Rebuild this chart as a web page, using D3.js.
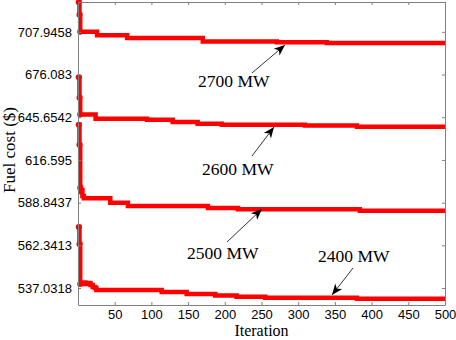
<!DOCTYPE html>
<html lang="en">
<head>
    <meta charset="UTF-8">
    <title>Fuel cost vs iteration</title>
    <script src="https://d3js.org/d3.v7.min.js"></script>
    <style>
        body { margin: 0; background: #fff; }
        .tick text { font-family: "Liberation Sans", Arial, sans-serif; font-size: 13px; fill: #000; }
        .axis path, .axis line { stroke: #808080; }
        .lbl { font-family: "Liberation Serif", "Times New Roman", serif; font-size: 17.5px; fill: #000; }
    </style>
</head>
<body>
<div id="chart"></div>
<script>
    // step points of each convergence curve (iteration, fuel cost)
    const iter2700 = [1, 2, 3, 26, 67, 170, 271, 339, 500];
    const cost2700 = [731.0, 721.1, 708.1, 705.4, 703.2, 700.6, 700.0, 699.4, 699.4];

    const iter2600 = [1, 2, 3, 24, 94, 129, 163, 196, 309, 380, 500];
    const cost2600 = [674.1, 659.3, 647.6, 644.6, 643.9, 642.3, 641.1, 640.4, 639.9, 639.1, 639.1];

    const iter2500 = [1, 2, 3, 4, 5, 6, 8, 44, 68, 177, 218, 384, 500];
    const cost2500 = [640.4, 626.7, 598.3, 595.7, 597.0, 593.1, 591.6, 588.8, 586.7, 585.5, 584.6, 583.7, 583.7];

    const iter2400 = [1, 2, 3, 6, 10, 14, 17, 20, 23, 25, 114, 148, 187, 216, 255, 380, 500];
    const cost2400 = [573.6, 563.2, 539.4, 540.2, 539.4, 540.0, 538.8, 537.6, 537.0, 535.9, 534.8, 533.6, 532.8, 532.0, 531.5, 530.9, 530.9];

    const loads = ["2700 MW", "2600 MW", "2500 MW", "2400 MW"];

    const xTicks = [50, 100, 150, 200, 250, 300, 350, 400, 450, 500];
    const yTicks = [537.0318, 562.3413, 588.8437, 616.595, 645.6542, 676.083, 707.9458];

    const series = [
        { name: loads[0], iter: iter2700, cost: cost2700 },
        { name: loads[1], iter: iter2600, cost: cost2600 },
        { name: loads[2], iter: iter2500, cost: cost2500 },
        { name: loads[3], iter: iter2400, cost: cost2400 }
    ];

    const width = 456, height = 340;
    const plotL = 78, plotR = 445, plotT = 2, plotB = 305;

    const svg = d3.select("#chart").append("svg")
        .attr("width", width)
        .attr("height", height);

    const x = d3.scaleLinear().domain([0, 500]).range([plotL, plotR]);
    const y = d3.scaleLog().domain([527.3, 731.1]).range([plotB, plotT]);

    // curves
    const line = d3.line()
        .x(d => x(d[0]))
        .y(d => y(d[1]))
        .curve(d3.curveStepAfter);

    series.forEach(s => {
        const pts = s.iter.map((it, i) => [it, s.cost[i]]);
        svg.append("path")
            .datum(pts)
            .attr("fill", "none")
            .attr("stroke", "#ff0000")
            .attr("stroke-width", 4.5)
            .attr("d", line);
        svg.selectAll(null)
            .data(pts.slice(0, 3))
            .enter()
            .append("circle")
            .attr("cx", d => x(d[0]))
            .attr("cy", d => y(d[1]))
            .attr("r", 3)
            .attr("fill", "#ff0000");
    });

    // axes box, ticks pointing in
    svg.append("g").attr("class", "axis")
        .attr("transform", `translate(0,${plotB})`)
        .call(d3.axisBottom(x).tickValues(xTicks).tickSizeInner(-3).tickSizeOuter(0).tickPadding(4.5));
    svg.append("g").attr("class", "axis")
        .attr("transform", `translate(0,${plotT})`)
        .call(d3.axisTop(x).tickValues(xTicks).tickSizeInner(-3).tickSizeOuter(0).tickFormat(""));
    svg.append("g").attr("class", "axis")
        .attr("transform", `translate(${plotL},0)`)
        .call(d3.axisLeft(y).tickValues(yTicks).tickSizeInner(-3).tickSizeOuter(0).tickPadding(6).tickFormat(d => String(d)));
    svg.append("g").attr("class", "axis")
        .attr("transform", `translate(${plotR},0)`)
        .call(d3.axisRight(y).tickValues(yTicks).tickSizeInner(-3).tickSizeOuter(0).tickFormat(""));

    // axis titles
    svg.append("text").attr("class", "lbl")
        .style("font-size", "16px")
        .attr("x", (plotL + plotR) / 2).attr("y", 336.2)
        .attr("text-anchor", "middle")
        .text("Iteration");
    svg.append("text").attr("class", "lbl")
        .style("font-size", "17px")
        .attr("transform", "translate(15,150) rotate(-90)")
        .attr("text-anchor", "middle")
        .text("Fuel cost ($)");

    // annotations: text position, arrow tail and tip
    const notes = [
        { text: loads[0], tx: 198, ty: 87, x1: 252, y1: 73, x2: 285, y2: 45 },
        { text: loads[1], tx: 202, ty: 175, x1: 252, y1: 156, x2: 274, y2: 127 },
        { text: loads[2], tx: 187, ty: 259, x1: 227, y1: 242, x2: 262, y2: 209 },
        { text: loads[3], tx: 318, ty: 262, x1: 353, y1: 268, x2: 332, y2: 295 }
    ];

    notes.forEach(n => {
        svg.append("text").attr("class", "lbl")
            .attr("x", n.tx).attr("y", n.ty)
            .text(n.text);
        svg.append("line")
            .attr("x1", n.x1).attr("y1", n.y1)
            .attr("x2", n.x2).attr("y2", n.y2)
            .attr("stroke", "#000")
            .attr("stroke-width", 0.8);
        const a = Math.atan2(n.y2 - n.y1, n.x2 - n.x1) * 180 / Math.PI;
        svg.append("path")
            .attr("d", "M0,0 L-11,-4.5 L-8,0 L-11,4.5 Z")
            .attr("transform", `translate(${n.x2},${n.y2}) rotate(${a})`)
            .attr("fill", "#000");
    });
</script>
</body>
</html>
